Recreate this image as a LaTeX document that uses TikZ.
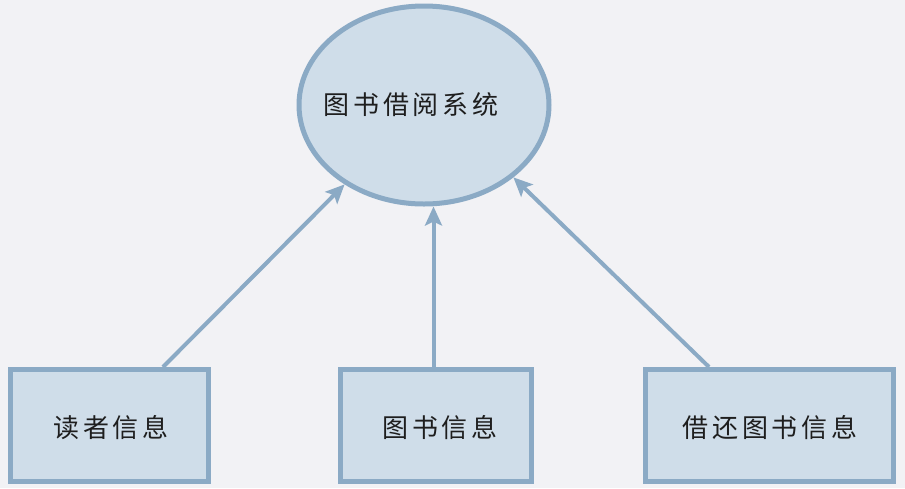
\documentclass[tikz,border=0pt]{standalone}
\usepackage{fontspec}
\newfontfamily\cjk[LetterSpace=15]{Noto Sans CJK SC}
\usetikzlibrary{shapes.geometric,arrows.meta}
\definecolor{bgc}{HTML}{F2F2F5}
\definecolor{fillc}{HTML}{CFDDE9}
\definecolor{linec}{HTML}{8BAAC5}
\definecolor{textc}{HTML}{1E1E1E}
\tikzset{
  every node/.style={font=\cjk\fontsize{26}{30}\selectfont, text=textc},
  sysnode/.style={ellipse, draw=linec, fill=fillc, line width=5pt, minimum width=250pt, minimum height=198pt, inner sep=0pt},
  infobox/.style={rectangle, draw=linec, fill=fillc, line width=5pt, minimum height=112pt, inner sep=0pt},
  arr/.style={draw=linec, line width=4pt, -{Stealth[length=19pt,width=17pt,inset=4pt]}}
}
\begin{document}
\begin{tikzpicture}[x=1pt,y=-1pt]
\fill[bgc] (0,0) rectangle (905,488);
\useasboundingbox (0,0) rectangle (905,488);
\node[sysnode] (e) at (424,105) {};
\node (et) at (411,105) {图书借阅系统};
\node[infobox, minimum width=198pt] (b1) at (109,425.5) {};
\node at (111,428) {读者信息};
\node[infobox, minimum width=191pt] (b2) at (435.5,425.5) {};
\node at (440,428) {图书信息};
\node[infobox, minimum width=248pt] (b3) at (769,425.5) {};
\node at (770,428) {借还图书信息};
\draw[arr] ([xshift=54pt]b1.north) -- (e.225);
\draw[arr] ([xshift=-2pt]b2.north) -- ([xshift=-2pt]b2.north |- e.south);
\draw[arr] ([xshift=-60pt]b3.north) -- (e.321);
\end{tikzpicture}
\end{document}
